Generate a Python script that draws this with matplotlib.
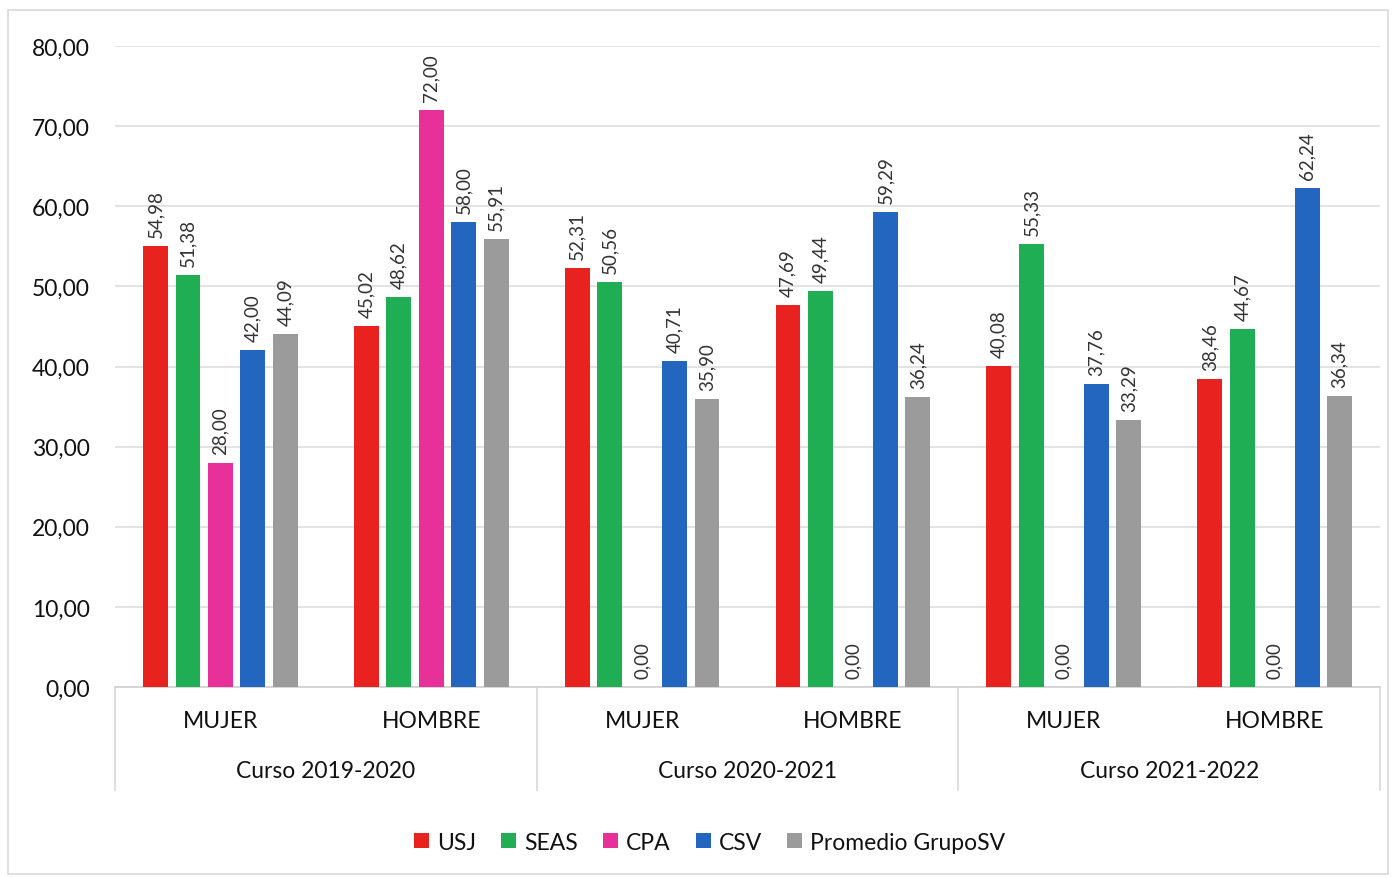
import matplotlib
matplotlib.use("Agg")
import matplotlib.pyplot as plt
import numpy as np
from matplotlib.patches import Rectangle

plt.rcParams["font.family"] = ["Lato", "DejaVu Sans"]

COURSES = ["Curso 2019-2020", "Curso 2020-2021", "Curso 2021-2022"]
SEXES = ["MUJER", "HOMBRE"]
SERIES = ["USJ", "SEAS", "CPA", "CSV", "Promedio GrupoSV"]
COLORS = ["#e8231f", "#1fae54", "#e8309b", "#2266c0", "#9b9b9b"]

# one value per (course, sex) in order M, H, M, H, M, H
USJ = [54.98, 45.02, 52.31, 47.69, 40.08, 38.46]
SEAS = [51.38, 48.62, 50.56, 49.44, 55.33, 44.67]
CPA = [28.00, 72.00, 0.00, 0.00, 0.00, 0.00]
CSV = [42.00, 58.00, 40.71, 59.29, 37.76, 62.24]
PROMEDIO = [44.09, 55.91, 35.90, 36.24, 33.29, 36.34]
VALUES = [USJ, SEAS, CPA, CSV, PROMEDIO]

fig = plt.figure(figsize=(13.94, 8.79), dpi=100)
fig.patches.append(Rectangle((0.006, 0.004), 0.99, 0.984, transform=fig.transFigure,
                             fill=False, edgecolor="#d9d9d9", linewidth=1.2))
ax = fig.add_axes([0.0825, 0.2173, 0.9075, 0.7292])

n_cat = len(USJ)
x = np.arange(n_cat)
step = 0.154
width = 0.118
for i, (name, vals, col) in enumerate(zip(SERIES, VALUES, COLORS)):
    xs = x + (i - 2) * step
    ax.bar(xs, vals, width=width, color=col, label=name, zorder=3)
    for xi, v in zip(xs, vals):
        ax.annotate(f"{v:.2f}".replace(".", ","), (xi, v), xytext=(0, 6.5),
                    textcoords="offset points", rotation=90, ha="center", va="bottom",
                    fontsize=13.5, color="#333333")

ax.set_xlim(-0.5, n_cat - 0.5)
ax.set_ylim(0, 80)
ax.set_yticks(np.arange(0, 81, 10))
ax.set_yticklabels([f"{t:.2f}".replace(".", ",") for t in np.arange(0, 81, 10)], fontsize=16.5)
ax.yaxis.grid(True, color="#dedede", linewidth=1.2, zorder=0)
ax.set_axisbelow(True)
for s in ("top", "right", "left"):
    ax.spines[s].set_visible(False)
ax.spines["bottom"].set_color("#d0d0d0")
ax.spines["bottom"].set_linewidth(1.2)
ax.tick_params(axis="y", length=0, pad=18, colors="#111111")
ax.set_xticks([])

trans = ax.get_xaxis_transform()
for j, s in enumerate(SEXES * len(COURSES)):
    ax.text(j, -0.052, s, transform=trans, ha="center", va="center", fontsize=16.5, color="#111111")
for k, c in enumerate(COURSES):
    ax.text(2 * k + 0.5, -0.13, c, transform=trans, ha="center", va="center", fontsize=16.5, color="#111111")
for b in np.arange(-0.5, n_cat, 2):
    ax.plot([b, b], [0, -0.16], transform=trans, color="#d9d9d9", linewidth=1.2, clip_on=False)

leg = ax.legend(loc="center", bbox_to_anchor=(0.47, -0.242), ncol=5, frameon=False, fontsize=16.5,
                handlelength=0.65, handleheight=0.65, handletextpad=0.35, columnspacing=1.1)
for t in leg.get_texts():
    t.set_color("#111111")

fig.savefig("out.png", dpi=100, facecolor="white")
